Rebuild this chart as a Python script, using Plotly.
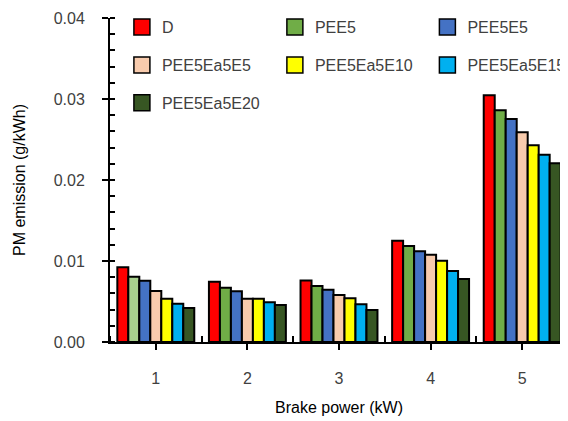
import plotly.graph_objects as go

categories = [1, 2, 3, 4, 5]
series_names = ["D", "PEE5", "PEE5E5", "PEE5Ea5E5", "PEE5Ea5E10", "PEE5Ea5E15", "PEE5Ea5E20"]
D = [0.00922, 0.00745, 0.00760, 0.01250, 0.03046]
PEE5 = [0.00806, 0.00670, 0.00690, 0.01185, 0.02860]
PEE5E5 = [0.00757, 0.00626, 0.00646, 0.01120, 0.02753]
PEE5Ea5E5 = [0.00630, 0.00535, 0.00580, 0.01076, 0.02589]
PEE5Ea5E10 = [0.00535, 0.00535, 0.00540, 0.01004, 0.02428]
PEE5Ea5E15 = [0.00473, 0.00490, 0.00465, 0.00877, 0.02313]
PEE5Ea5E20 = [0.00420, 0.00457, 0.00395, 0.00778, 0.02206]
series_values = [D, PEE5, PEE5E5, PEE5Ea5E5, PEE5Ea5E10, PEE5Ea5E15, PEE5Ea5E20]
colors = ["#FF0000", "#70AD47", "#4472C4", "#F8CBAD", "#FFFF00", "#00B0F0", "#375623"]
# first group's PEE5 bar is a lighter green in the reference
bar_colors = [[c] * 5 for c in colors]
bar_colors[1][0] = "#A9D18E"
legend_ids = ["legend", "legend2", "legend3", "legend", "legend2", "legend3", "legend"]
y_tickvals = [0, 0.01, 0.02, 0.03, 0.04]
y_ticktext = ["0.00", "0.01", "0.02", "0.03", "0.04"]

font = "Liberation Sans, Arial, sans-serif"
txt = "#404040"

fig = go.Figure()
for name, vals, bc in zip(series_names, series_values, bar_colors):
    fig.add_trace(go.Bar(
        x=categories, y=vals, name=name, showlegend=False,
        marker=dict(color=bc, line=dict(color="black", width=2)),
    ))
for name, col, lg in zip(series_names, colors, legend_ids):
    fig.add_trace(go.Scatter(
        x=[None], y=[None], mode="markers", name=name, legend=lg,
        legendgroup=name,
        marker=dict(symbol="square", size=16, color=col, line=dict(color="black", width=1.5)),
    ))

leg_common = dict(font=dict(family=font, size=16, color=txt), bgcolor="rgba(0,0,0,0)",
                  tracegroupgap=14, itemwidth=30, xanchor="left", yanchor="top")
fig.update_layout(
    width=560, height=413,
    margin=dict(l=102, r=0, t=10, b=79, autoexpand=False),
    paper_bgcolor="white", plot_bgcolor="white",
    barmode="group", bargap=0.16, bargroupgap=0,
    font=dict(family=font, size=16, color=txt),
    legend=dict(x=0.026, y=1.024, **leg_common),
    legend2=dict(x=0.360, y=1.024, **leg_common),
    legend3=dict(x=0.693, y=1.024, **leg_common),
    xaxis=dict(
        range=[0.5, 5.5], tickvals=categories, ticktext=[str(c) for c in categories],
        showline=True, linecolor="black", linewidth=2, showgrid=False, zeroline=False,
        ticks="outside", ticklen=6, tickwidth=2, tickcolor="black", ticklabelstandoff=15,
        minor=dict(tick0=0.5, dtick=1, ticks="inside", ticklen=6, tickwidth=2, tickcolor="black"),
        title=dict(text="Brake power (kW)", font=dict(size=16, color="black"), standoff=16),
        tickfont=dict(size=16, color=txt), automargin=False,
    ),
    yaxis=dict(
        range=[0, 0.04], tickvals=y_tickvals, ticktext=y_ticktext,
        showline=True, linecolor="black", linewidth=2, showgrid=False, zeroline=False,
        ticks="outside", ticklen=6, tickwidth=2, tickcolor="black", ticklabelstandoff=14,
        minor=dict(dtick=0.002, ticks="inside", ticklen=5, tickwidth=1.5, tickcolor="black"),
        title=dict(text="PM emission (g/kWh)", font=dict(size=16, color="black"), standoff=24),
        tickfont=dict(size=16, color=txt), automargin=False,
    ),
)
fig.write_html("out.html")
